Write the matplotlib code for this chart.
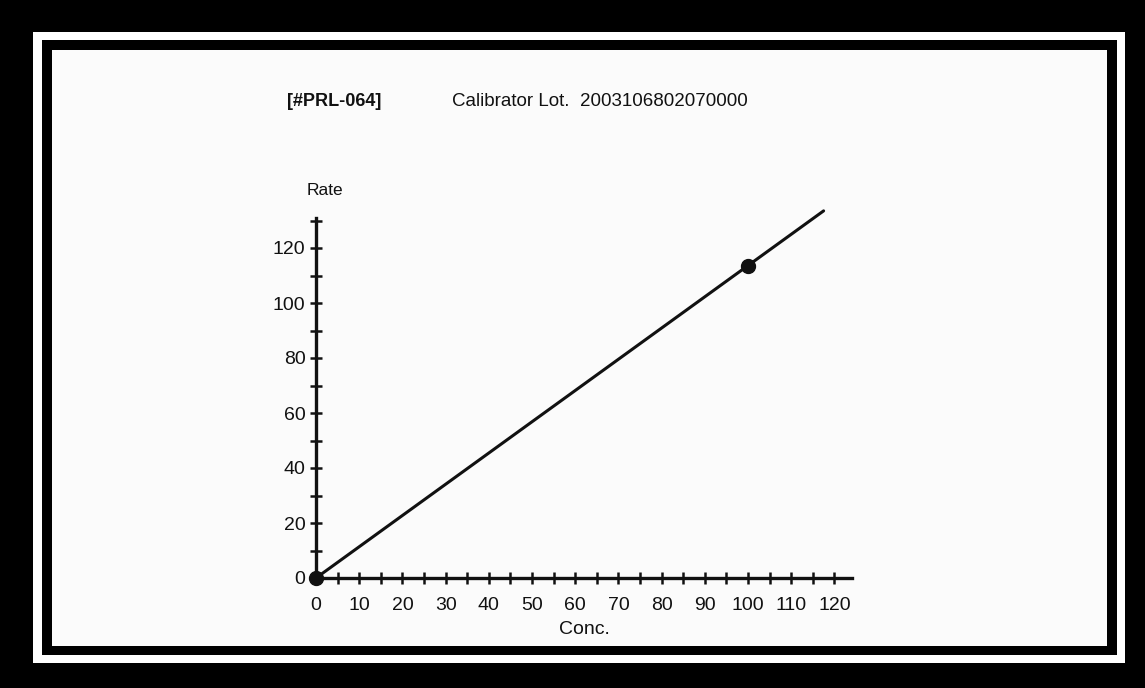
import matplotlib
matplotlib.use("Agg")
import matplotlib.pyplot as plt
from matplotlib.patches import Rectangle

# calibration data
cal_conc = [0, 100]
cal_rate = [0, 113.5]
fit_conc = [0, 117.5]
fit_rate = [0, 133.5]

x_major = list(range(0, 121, 10))
x_minor = list(range(5, 116, 10))
y_major = list(range(0, 121, 20))
y_minor = list(range(10, 131, 20))

header_id = "[#PRL-064]"
header_lot = "Calibrator Lot.  2003106802070000"

W, H = 1145, 688
plt.rcParams['font.family'] = ['Liberation Sans', 'DejaVu Sans']

fig = plt.figure(figsize=(W / 100, H / 100), dpi=100)
fig.patch.set_facecolor("black")


def px_rect(x0, y0, x1, y1, color):
    # rectangle given in pixel coords (origin top-left)
    fig.patches.append(Rectangle((x0 / W, 1 - y1 / H), (x1 - x0) / W, (y1 - y0) / H,
                                 transform=fig.transFigure, facecolor=color,
                                 edgecolor="none", zorder=-10))


px_rect(33, 32, 1125, 663, "white")
px_rect(42, 40, 1117, 655, "black")
px_rect(52, 50, 1107, 646, "#fbfbfb")

# axes placed so that 0 -> (316, 578) px, 10 conc = 43.2 px, 10 rate = 27.5 px
X0, Y0, SX, SY = 316, 578, 4.32, 2.75
left_px, right_px, top_px, bot_px = 280, 870, 190, 620
ax = fig.add_axes([left_px / W, 1 - bot_px / H, (right_px - left_px) / W, (bot_px - top_px) / H])
ax.set_zorder(5)
ax.set_xlim((left_px - X0) / SX, (right_px - X0) / SX)
ax.set_ylim((Y0 - bot_px) / SY, (Y0 - top_px) / SY)
ax.patch.set_alpha(0)

for s in ["top", "right"]:
    ax.spines[s].set_visible(False)
ax.spines["left"].set_position(("data", 0))
ax.spines["bottom"].set_position(("data", 0))
ax.spines["left"].set_bounds(0, 131)
ax.spines["bottom"].set_bounds(0, 124)
for s in ["left", "bottom"]:
    ax.spines[s].set_linewidth(2.4)
    ax.spines[s].set_color("#111111")

ax.set_xticks(x_major)
ax.set_xticks(x_minor, minor=True)
ax.set_yticks(y_major)
ax.set_yticks(y_minor, minor=True)
ax.set_yticklabels([str(v) for v in y_major])
ax.set_xticklabels([str(v) for v in x_major])
ax.tick_params(axis="both", which="both", direction="inout", length=9, width=1.8,
               color="#111111", labelsize=14, labelcolor="#111111")
ax.tick_params(axis="x", pad=9)
ax.tick_params(axis="y", pad=3)

ax.plot(fit_conc, fit_rate, color="#111111", lw=2.2, solid_capstyle="round", zorder=3)
ax.plot(cal_conc, cal_rate, "o", color="#111111", ms=10, zorder=4)

fig.text(325 / W, 1 - 190 / H, "Rate", ha="center", va="center", fontsize=12.5, color="#111111")
fig.text(584 / W, 1 - 629 / H, "Conc.", ha="center", va="center", fontsize=14, color="#111111")
fig.text(287 / W, 1 - 101 / H, header_id, ha="left", va="center", fontsize=13,
         fontweight="bold", color="#111111")
fig.text(452 / W, 1 - 102 / H, header_lot, ha="left", va="center", fontsize=13.5,
         color="#111111")

fig.savefig("out.png", dpi=100, facecolor=fig.get_facecolor())
